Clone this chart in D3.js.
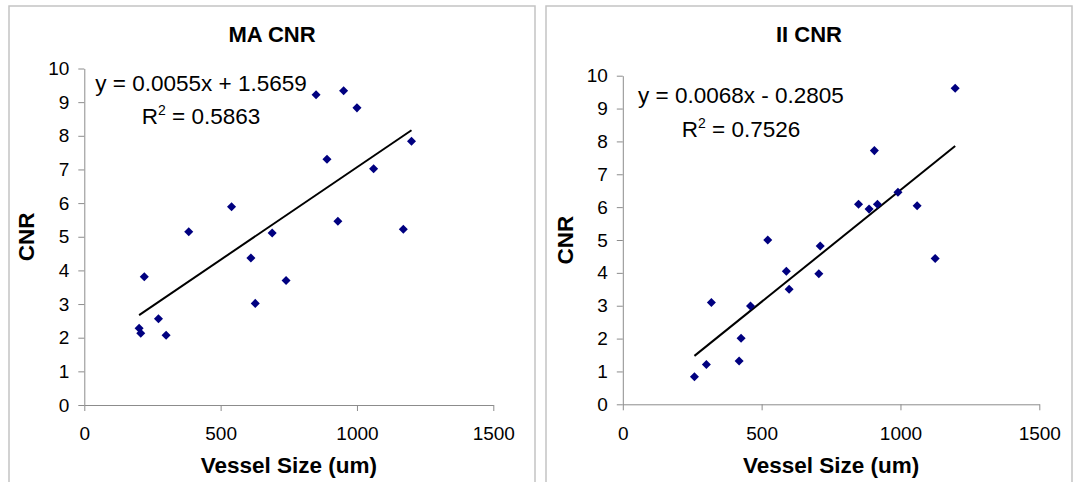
<!DOCTYPE html>
<html>
<head>
<meta charset="utf-8">
<script src="https://cdn.jsdelivr.net/npm/d3@7"></script>
<style>
  body { margin: 0; background: #fff; }
  svg { display: block; font-family: "Liberation Sans", Arial, sans-serif; }
</style>
</head>
<body>
<svg id="chart" width="1074" height="482"></svg>
<script>
// values
const maSize = [850, 951, 1000, 1200, 890, 1061, 540, 383, 689, 930, 1170, 611, 740, 220, 627, 272, 201, 207, 300];
const maCnr  = [9.22, 9.34, 8.83, 7.84, 7.30, 7.02, 5.89, 5.15, 5.11, 5.46, 5.22, 4.37, 3.70, 3.81, 3.02, 2.56, 2.28, 2.13, 2.07];

const iiSize = [1197, 906, 991, 849, 887, 917, 1060, 522, 711, 1125, 589, 706, 599, 319, 460, 426, 419, 301, 258];
const iiCnr  = [9.62, 7.72, 6.45, 6.09, 5.94, 6.09, 6.04, 5.00, 4.82, 4.44, 4.05, 3.97, 3.50, 3.10, 2.99, 2.01, 1.32, 1.21, 0.84];

const xTicks = [0, 500, 1000, 1500];
const yTicks = [0, 1, 2, 3, 4, 5, 6, 7, 8, 9, 10];

const titles = ["MA CNR", "II CNR"];
const slopes = [0.0055, 0.0068];
const intercepts = [1.5659, -0.2805];
const eqLabels = ["y = 0.0055x + 1.5659", "y = 0.0068x - 0.2805"];
const r2Labels = ["0.5863", "0.7526"];

const svg = d3.select("#chart");

const panels = [
  { xs: maSize, ys: maCnr, box: [9, 535], x0: 84.3, x1: 493.3, y0: 405, y1: 68.5, eq: [201, 90.7, 124], ylab: 34 },
  { xs: iiSize, ys: iiCnr, box: [546, 1072], x0: 622.8, x1: 1039.3, y0: 404.3, y1: 75.7, eq: [741, 103, 136.7], ylab: 572.5 }
];

panels.forEach((p, i) => {
  const g = svg.append("g");

  // panel frame (bottom runs off the picture)
  g.append("path")
    .attr("d", `M${p.box[0]},490 V6 H${p.box[1]} V490`)
    .attr("fill", "none")
    .attr("stroke", "#c4c4c4")
    .attr("stroke-width", 1.5);

  const x = d3.scaleLinear().domain([0, 1500]).range([p.x0, p.x1]);
  const y = d3.scaleLinear().domain([0, 10]).range([p.y0, p.y1]);

  const xAxis = g.append("g")
    .attr("transform", `translate(0,${p.y0})`)
    .call(d3.axisBottom(x).tickValues(xTicks).tickFormat(d3.format("d"))
      .tickSize(6).tickPadding(16).tickSizeOuter(0));
  const yAxis = g.append("g")
    .attr("transform", `translate(${p.x0},0)`)
    .call(d3.axisLeft(y).tickValues(yTicks).tickFormat(d3.format("d"))
      .tickSize(6).tickPadding(9).tickSizeOuter(0));

  [xAxis, yAxis].forEach(a => {
    a.select(".domain").attr("stroke", "#8c8c8c");
    a.selectAll(".tick line").attr("stroke", "#8c8c8c");
    a.selectAll(".tick text")
      .attr("fill", "#000")
      .style("font-family", "'Liberation Sans', Arial, sans-serif")
      .style("font-size", "19px");
  });

  // trend line over the data range
  const xmin = d3.min(p.xs), xmax = d3.max(p.xs);
  g.append("line")
    .attr("x1", x(xmin)).attr("y1", y(slopes[i] * xmin + intercepts[i]))
    .attr("x2", x(xmax)).attr("y2", y(slopes[i] * xmax + intercepts[i]))
    .attr("stroke", "#000")
    .attr("stroke-width", 2);

  // points
  g.selectAll("path.pt")
    .data(d3.zip(p.xs, p.ys))
    .join("path")
    .attr("class", "pt")
    .attr("d", d3.symbol(d3.symbolDiamond2, 52))
    .attr("transform", d => `translate(${x(d[0])},${y(d[1])})`)
    .attr("fill", "#000080");

  // title
  g.append("text")
    .attr("x", (p.box[0] + p.box[1]) / 2)
    .attr("y", 42)
    .attr("text-anchor", "middle")
    .style("font-size", "22px")
    .style("font-weight", "bold")
    .text(titles[i]);

  // equation and R²
  g.append("text")
    .attr("x", p.eq[0]).attr("y", p.eq[1])
    .attr("text-anchor", "middle")
    .style("font-size", "22.5px")
    .text(eqLabels[i]);
  const r2 = g.append("text")
    .attr("x", p.eq[0]).attr("y", p.eq[2])
    .attr("text-anchor", "middle")
    .style("font-size", "22.5px");
  r2.append("tspan").text("R");
  r2.append("tspan").attr("dy", -9).style("font-size", "14px").text("2");
  r2.append("tspan").attr("dy", 9).text(" = " + r2Labels[i]);

  // axis titles
  g.append("text")
    .attr("x", (p.x0 + p.x1) / 2)
    .attr("y", 473)
    .attr("text-anchor", "middle")
    .style("font-size", "22.5px")
    .style("font-weight", "bold")
    .text("Vessel Size (um)");
  g.append("text")
    .attr("transform", `translate(${p.ylab},${(p.y0 + p.y1) / 2}) rotate(-90)`)
    .attr("text-anchor", "middle")
    .style("font-size", "22.5px")
    .style("font-weight", "bold")
    .text("CNR");
});
</script>
</body>
</html>
